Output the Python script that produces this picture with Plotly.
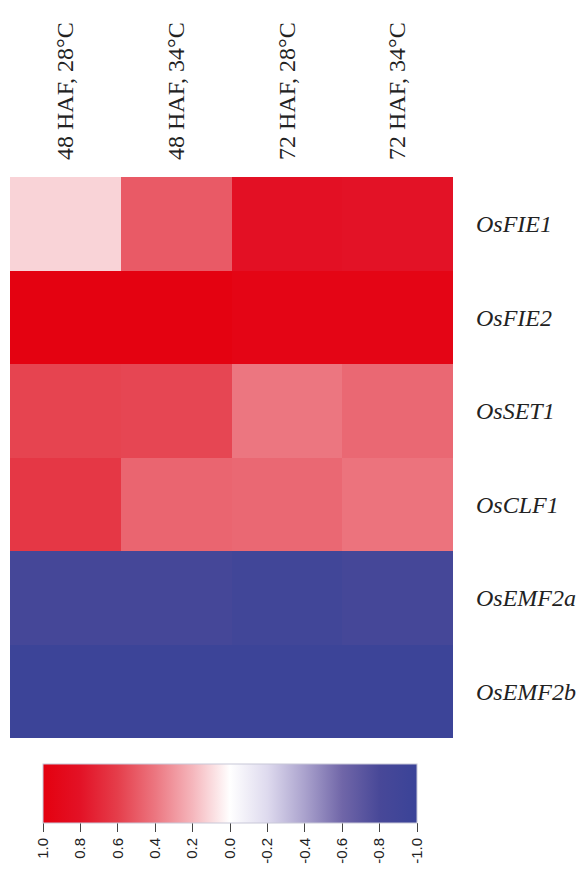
import plotly.graph_objects as go

conditions = ["48 HAF, 28°C", "48 HAF, 34°C", "72 HAF, 28°C", "72 HAF, 34°C"]
genes = ["OsFIE1", "OsFIE2", "OsSET1", "OsCLF1", "OsEMF2a", "OsEMF2b"]

OsFIE1 = [0.12, 0.50, 0.82, 0.80]
OsFIE2 = [0.98, 0.98, 0.95, 0.95]
OsSET1 = [0.58, 0.57, 0.40, 0.45]
OsCLF1 = [0.63, 0.46, 0.45, 0.41]
OsEMF2a = [-0.85, -0.84, -0.90, -0.85]
OsEMF2b = [-0.97, -0.97, -0.97, -0.97]

values = [OsFIE1, OsFIE2, OsSET1, OsCLF1, OsEMF2a, OsEMF2b]

colorbar_ticks = [1.0, 0.8, 0.6, 0.4, 0.2, 0.0, -0.2, -0.4, -0.6, -0.8, -1.0]
colorbar_ticktext = ["1.0", "0.8", "0.6", "0.4", "0.2", "0.0", "-0.2", "-0.4", "-0.6", "-0.8", "-1.0"]

# colour scale, from +1 (red) through 0 (white) to -1 (blue)
red_to_blue = [
    (1.0, "rgb(228,0,15)"),
    (0.8, "rgb(227,18,38)"),
    (0.6, "rgb(229,62,75)"),
    (0.4, "rgb(236,118,128)"),
    (0.2, "rgb(245,182,188)"),
    (0.0, "rgb(255,255,255)"),
    (-0.2, "rgb(222,218,238)"),
    (-0.4, "rgb(170,162,205)"),
    (-0.6, "rgb(112,102,168)"),
    (-0.8, "rgb(72,72,152)"),
    (-1.0, "rgb(58,67,152)"),
]

# The reference colour bar runs from +1 at left to -1 at right, so the colour
# axis is mirrored (plotted value = -value); labels show the true values.
colorscale = sorted([[(-v + 1) / 2, c] for v, c in red_to_blue], key=lambda p: p[0])

z_plot = [[-v for v in row] for row in values]

# the page body has an 8px margin; the figure is sized to fit inside it
BODY = 8
W, H = 586 - BODY, 874 - BODY
ml, mt = 10 - BODY, 177 - BODY
pw, ph = 443, 561
mr = W - ml - pw
mb = H - mt - ph

cb_left_px, cb_right_px = 43 - BODY, 417 - BODY
cb_top_px, cb_bottom_px = 764 - BODY, 823 - BODY

fig = go.Figure(
    go.Heatmap(
        z=z_plot,
        x=conditions,
        y=genes,
        customdata=values,
        hovertemplate="%{y}<br>%{x}<br>%{customdata:.2f}<extra></extra>",
        colorscale=colorscale,
        zmin=-1,
        zmax=1,
        xgap=0,
        ygap=0,
        colorbar=dict(
            orientation="h",
            lenmode="pixels",
            len=cb_right_px - cb_left_px,
            thicknessmode="pixels",
            thickness=cb_bottom_px - cb_top_px,
            x=(cb_left_px - ml) / pw,
            xanchor="left",
            y=-(cb_top_px - (mt + ph)) / ph,
            yanchor="top",
            xpad=0,
            ypad=0,
            outlinewidth=1,
            outlinecolor="#c8c8d8",
            tickvals=[-v for v in colorbar_ticks],
            ticktext=colorbar_ticktext,
            ticks="outside",
            ticklen=9,
            tickwidth=1,
            tickcolor="#444444",
            tickangle=-90,
            tickfont=dict(family="Liberation Sans, Arial, sans-serif", size=15, color="#222222"),
        ),
    )
)

fig.update_layout(
    width=W,
    height=H,
    margin=dict(l=ml, r=mr, t=mt, b=mb, pad=0),
    paper_bgcolor="white",
    plot_bgcolor="white",
    xaxis=dict(
        side="top",
        tickangle=-90,
        showgrid=False,
        zeroline=False,
        showline=False,
        ticks="",
        ticklabelstandoff=16,
        tickfont=dict(family="Liberation Serif, Times New Roman, serif", size=24, color="#222222"),
    ),
    yaxis=dict(
        side="right",
        autorange="reversed",
        showgrid=False,
        zeroline=False,
        showline=False,
        ticks="",
        ticklabelstandoff=22,
        tickfont=dict(family="Liberation Serif, Times New Roman, serif", size=24, color="#222222",
                      style="italic"),
    ),
)

fig.write_html("out.html")
